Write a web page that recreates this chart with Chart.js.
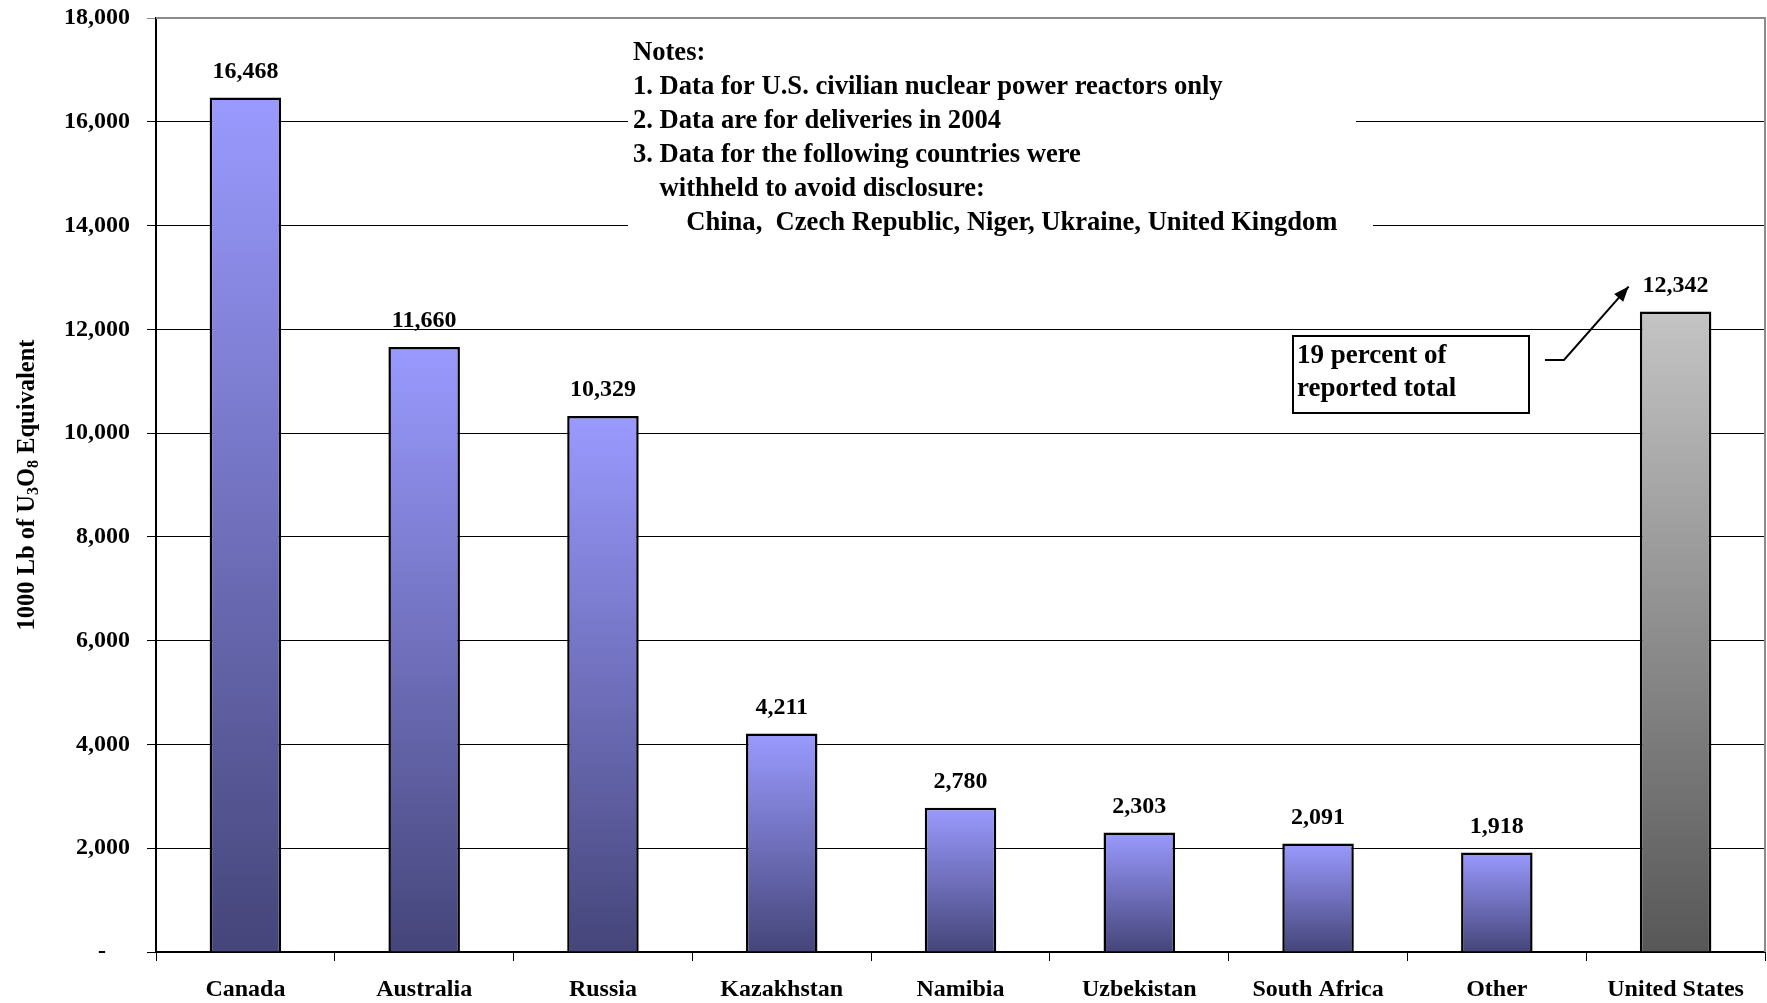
<!DOCTYPE html>
<html>
<head>
<meta charset="utf-8">
<script src="https://cdn.jsdelivr.net/npm/chart.js@4"></script>
<style>
  html, body { margin: 0; padding: 0; background: #fff; }
  canvas { display: block; }
</style>
</head>
<body>
<canvas id="chart" width="1767" height="1003"></canvas>
<script>
const categories = ['Canada', 'Australia', 'Russia', 'Kazakhstan', 'Namibia', 'Uzbekistan', 'South Africa', 'Other', 'United States'];
const deliveries = [16468, 11660, 10329, 4211, 2780, 2303, 2091, 1918, 12342];
const highlighted = ['United States'];
const yMin = 0;
const yMax = 18000;
const yStep = 2000;
const notes = [
    'Notes:',
    '1. Data for U.S. civilian nuclear power reactors only',
    '2. Data are for deliveries in 2004',
    '3. Data for the following countries were',
    '    withheld to avoid disclosure:',
    '        China,  Czech Republic, Niger, Ukraine, United Kingdom',
];
const calloutLines = ['19 percent of', 'reported total'];

const FONT = "'Liberation Serif', 'Times New Roman', serif";

function barGradient(ctx) {
    const chart = ctx.chart;
    if (!chart.chartArea || ctx.type !== 'data') return '#9999ff';
    const top = chart.scales.y.getPixelForValue(ctx.raw);
    const bottom = chart.scales.y.getPixelForValue(0);
    const g = chart.ctx.createLinearGradient(0, top, 0, bottom);
    if (highlighted.includes(categories[ctx.dataIndex])) {
        g.addColorStop(0, '#c4c4c4');
        g.addColorStop(1, '#575757');
    } else {
        g.addColorStop(0, '#9a9aff');
        g.addColorStop(1, '#45457a');
    }
    return g;
}

const extras = {
    id: 'extras',
    afterDatasetsDraw(chart) {
        const { ctx, chartArea } = chart;
        const meta = chart.getDatasetMeta(0);
        ctx.save();

        // plot border on top / right
        ctx.strokeStyle = '#8c8c8c';
        ctx.lineWidth = 2;
        ctx.beginPath();
        ctx.moveTo(chartArea.left, chartArea.top);
        ctx.lineTo(chartArea.right, chartArea.top);
        ctx.lineTo(chartArea.right, chartArea.bottom);
        ctx.stroke();

        // value labels
        ctx.fillStyle = '#000';
        ctx.font = `bold 24px ${FONT}`;
        ctx.textAlign = 'center';
        ctx.textBaseline = 'middle';
        meta.data.forEach((bar, i) => {
            ctx.fillText(deliveries[i].toLocaleString('en-US'), bar.x, bar.y - 26);
        });

        // notes box
        ctx.fillStyle = '#fff';
        ctx.fillRect(628, 34, 728, 150);
        ctx.fillRect(628, 184, 745, 58);
        ctx.fillStyle = '#000';
        ctx.font = `bold 26.6px ${FONT}`;
        ctx.textAlign = 'left';
        notes.forEach((line, i) => {
            ctx.fillText(line, 633, 53 + i * 34);
        });

        // callout
        const us = meta.data[categories.indexOf('United States')];
        ctx.fillStyle = '#fff';
        ctx.fillRect(1293, 336, 236, 77);
        ctx.strokeStyle = '#000';
        ctx.lineWidth = 2;
        ctx.strokeRect(1293, 336, 236, 77);
        ctx.fillStyle = '#000';
        ctx.font = `bold 27px ${FONT}`;
        calloutLines.forEach((line, i) => ctx.fillText(line, 1297, 356 + i * 33));

        const tipX = us.x - 47, tipY = us.y - 25;
        const kneeX = 1564, kneeY = 360;
        ctx.beginPath();
        ctx.moveTo(1545, kneeY);
        ctx.lineTo(kneeX, kneeY);
        ctx.lineTo(tipX, tipY);
        ctx.stroke();
        const ang = Math.atan2(tipY - kneeY, tipX - kneeX);
        ctx.beginPath();
        ctx.moveTo(tipX, tipY);
        ctx.lineTo(tipX - 15 * Math.cos(ang) + 6 * Math.sin(ang), tipY - 15 * Math.sin(ang) - 6 * Math.cos(ang));
        ctx.lineTo(tipX - 15 * Math.cos(ang) - 6 * Math.sin(ang), tipY - 15 * Math.sin(ang) + 6 * Math.cos(ang));
        ctx.closePath();
        ctx.fill();

        // y axis title with subscripts
        const parts = [['1000 Lb of U', 0], ['3', 1], ['O', 0], ['8', 1], [' Equivalent', 0]];
        const big = `bold 24.5px ${FONT}`, small = `bold 16px ${FONT}`;
        let total = 0;
        parts.forEach(([t, sub]) => { ctx.font = sub ? small : big; total += ctx.measureText(t).width; });
        ctx.translate(26, 485);
        ctx.rotate(-Math.PI / 2);
        ctx.textBaseline = 'alphabetic';
        let x = -total / 2;
        parts.forEach(([t, sub]) => {
            ctx.font = sub ? small : big;
            ctx.fillText(t, x, sub ? 12 : 8);
            x += ctx.measureText(t).width;
        });
        ctx.restore();
    }
};

new Chart(document.getElementById('chart'), {
    type: 'bar',
    data: {
        labels: categories,
        datasets: [{
            data: deliveries,
            backgroundColor: barGradient,
            borderColor: '#000',
            borderWidth: 2.5,
            barPercentage: 0.4,
            categoryPercentage: 1.0,
        }],
    },
    options: {
        responsive: false,
        animation: false,
        layout: { padding: { top: 18, right: 2, left: 0, bottom: 0 } },
        plugins: {
            legend: { display: false },
            tooltip: { enabled: false },
        },
        scales: {
            x: {
                afterFit: (scale) => { scale.height = 51; scale.paddingLeft = 0; scale.paddingRight = 0; },
                grid: { drawOnChartArea: false, drawTicks: true, tickLength: 9, color: '#000', lineWidth: 1 },
                border: { display: true, color: '#000', width: 2 },
                ticks: {
                    color: '#000',
                    padding: 14,
                    font: { family: FONT, size: 24, weight: 'bold' },
                },
            },
            y: {
                min: yMin,
                max: yMax,
                afterFit: (scale) => { scale.width = 156; scale.paddingTop = 0; scale.paddingBottom = 0; },
                grid: {
                    color: (c) => (c.tick && c.tick.value === yMax ? '#8c8c8c' : '#000'),
                    lineWidth: 1,
                    tickLength: 9,
                },
                border: { display: true, color: '#000', width: 2 },
                ticks: {
                    stepSize: yStep,
                    color: '#000',
                    padding: 17,
                    font: { family: FONT, size: 24, weight: 'bold' },
                    callback: (v) => (v === 0 ? '-    ' : v.toLocaleString('en-US')),
                },
            },
        },
    },
    plugins: [extras],
});
</script>
</body>
</html>
